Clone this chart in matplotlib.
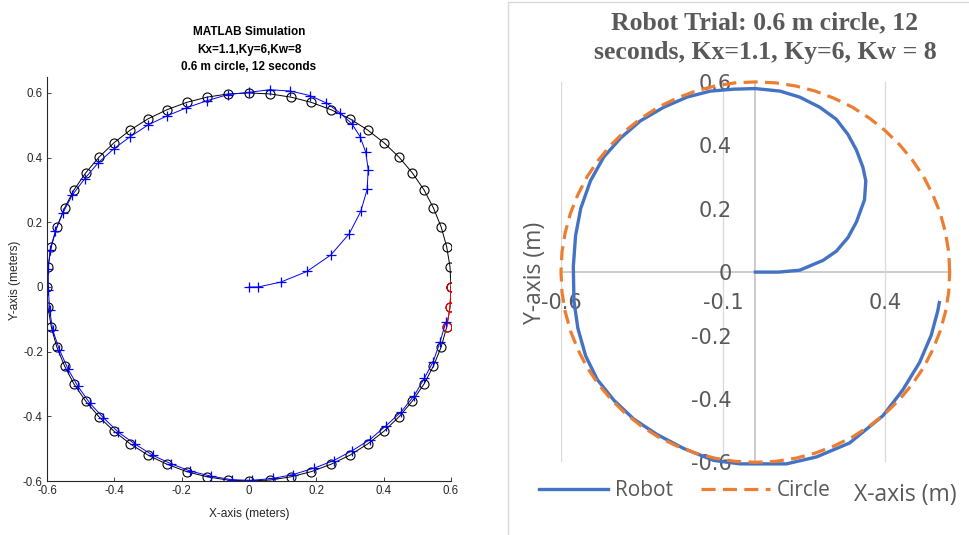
import matplotlib
matplotlib.use('Agg')
import matplotlib.pyplot as plt
from matplotlib.patches import Rectangle

plt.rcParams['axes.unicode_minus'] = False

# reference circle (0.6 m), one point every 0.2 s
ref_x = [0.600, 0.597, 0.587, 0.571, 0.548, 0.520, 0.485, 0.446, 0.401, 0.353,
         0.300, 0.244, 0.185, 0.125, 0.063, 0.000, -0.063, -0.125, -0.185, -0.244,
         -0.300, -0.353, -0.401, -0.446, -0.485, -0.520, -0.548, -0.571, -0.587, -0.597,
         -0.600, -0.597, -0.587, -0.571, -0.548, -0.520, -0.485, -0.446, -0.401, -0.353,
         -0.300, -0.244, -0.185, -0.125, -0.063, 0.000, 0.063, 0.125, 0.185, 0.244,
         0.300, 0.353, 0.401, 0.446, 0.485, 0.520, 0.548, 0.571, 0.587, 0.597, 0.600]
ref_y = [0.000, 0.063, 0.125, 0.185, 0.244, 0.300, 0.353, 0.401, 0.446, 0.485,
         0.520, 0.548, 0.571, 0.587, 0.597, 0.600, 0.597, 0.587, 0.571, 0.548,
         0.520, 0.485, 0.446, 0.401, 0.353, 0.300, 0.244, 0.185, 0.125, 0.063,
         0.000, -0.063, -0.125, -0.185, -0.244, -0.300, -0.353, -0.401, -0.446, -0.485,
         -0.520, -0.548, -0.571, -0.587, -0.597, -0.600, -0.597, -0.587, -0.571, -0.548,
         -0.520, -0.485, -0.446, -0.401, -0.353, -0.300, -0.244, -0.185, -0.125, -0.063, 0.000]
n_red = 3  # last reference points drawn in red

# MATLAB simulation of the robot path
sim_x = [0.0, 0.027, 0.094, 0.172, 0.243, 0.298, 0.332, 0.351, 0.354, 0.347,
         0.33, 0.306, 0.271, 0.23, 0.181, 0.123, 0.061, 0.0, -0.063, -0.125,
         -0.186, -0.244, -0.3, -0.354, -0.402, -0.448, -0.488, -0.525, -0.553, -0.575,
         -0.591, -0.596, -0.596, -0.592, -0.583, -0.563, -0.538, -0.509, -0.473, -0.433,
         -0.388, -0.34, -0.285, -0.231, -0.175, -0.114, -0.051, 0.008, 0.071, 0.131,
         0.194, 0.251, 0.307, 0.359, 0.406, 0.452, 0.49, 0.521, 0.547, 0.567, 0.585]
sim_y = [0.0, 0.0, 0.015, 0.048, 0.099, 0.165, 0.234, 0.302, 0.363, 0.416,
         0.465, 0.504, 0.538, 0.569, 0.592, 0.606, 0.61, 0.602, 0.595, 0.576,
         0.554, 0.529, 0.501, 0.464, 0.427, 0.384, 0.335, 0.284, 0.229, 0.173,
         0.115, 0.055, -0.008, -0.071, -0.134, -0.194, -0.253, -0.306, -0.359, -0.404,
         -0.449, -0.485, -0.521, -0.547, -0.569, -0.585, -0.596, -0.598, -0.592, -0.58,
         -0.56, -0.537, -0.506, -0.472, -0.43, -0.386, -0.337, -0.282, -0.231, -0.171, -0.108]

# robot trial path
trial_x = [0.0, 0.072, 0.137, 0.209, 0.25, 0.286, 0.312, 0.337, 0.341, 0.332,
           0.312, 0.286, 0.25, 0.199, 0.137, 0.076, 0.0, -0.068, -0.139, -0.211,
           -0.283, -0.355, -0.416, -0.468, -0.509, -0.539, -0.555, -0.562, -0.56, -0.548,
           -0.524, -0.488, -0.437, -0.375, -0.304, -0.222, -0.129, -0.047, 0.096, 0.189,
           0.291, 0.394, 0.455, 0.507, 0.543, 0.563, 0.568]
trial_y = [0.0, 0.0, 0.006, 0.037, 0.066, 0.109, 0.158, 0.228, 0.288, 0.331,
           0.385, 0.434, 0.482, 0.52, 0.552, 0.571, 0.579, 0.577, 0.571, 0.552,
           0.52, 0.477, 0.423, 0.363, 0.288, 0.201, 0.115, 0.017, -0.091, -0.177,
           -0.264, -0.339, -0.404, -0.464, -0.512, -0.556, -0.594, -0.605, -0.605, -0.583,
           -0.539, -0.453, -0.372, -0.285, -0.199, -0.123, -0.096]

left_ticks = [-0.6, -0.4, -0.2, 0, 0.2, 0.4, 0.6]
left_ticklabels = ['-0.6', '-0.4', '-0.2', '0', '0.2', '0.4', '0.6']
right_xticks = [-0.6, -0.1, 0.4]
right_xticklabels = ['-0.6', '-0.1', '0.4']
right_yticks = [-0.6, -0.4, -0.2, 0, 0.2, 0.4, 0.6]
right_yticklabels = ['-0.6', '-0.4', '-0.2', '0', '0.2', '0.4', '0.6']

fig = plt.figure(figsize=(9.69, 5.35), dpi=100)

# ---- left: MATLAB simulation ----
mfont = 'Liberation Sans'
ax1 = fig.add_axes([47 / 969, 1 - 481 / 535, 404 / 969, (481 - 76.8) / 535])
ax1.plot(ref_x, ref_y, 'k-', lw=0.7, marker='o', ms=6.5, mfc='none', mew=0.8)
ax1.plot(ref_x[-n_red:], ref_y[-n_red:], 'r-', lw=0.7, marker='o', ms=6.5, mfc='none', mew=0.8)
ax1.plot(sim_x, sim_y, 'b-', lw=0.7, marker='+', ms=7, mew=0.9)
ax1.set_xlim(-0.6, 0.6)
ax1.set_ylim(-0.6, 0.65)
ax1.set_xticks(left_ticks)
ax1.set_xticklabels(left_ticklabels, fontfamily=mfont)
ax1.set_yticks(left_ticks)
ax1.set_yticklabels(left_ticklabels, fontfamily=mfont)
ax1.spines['top'].set_visible(False)
ax1.spines['right'].set_visible(False)
for s in ('left', 'bottom'):
    ax1.spines[s].set_color('#262626')
    ax1.spines[s].set_linewidth(0.8)
ax1.tick_params(direction='in', length=3, width=0.6, labelsize=8.3,
                colors='#262626', pad=3)

fig.text(249 / 969, 1 - 31.7 / 535, 'MATLAB Simulation', ha='center', va='center',
         fontsize=8.5, fontweight='bold', fontfamily=mfont)
fig.text(249 / 969, 1 - 49.5 / 535, 'Kx=1.1,Ky=6,Kw=8', ha='center', va='center',
         fontsize=8.5, fontweight='bold', fontfamily=mfont)
fig.text(249 / 969, 1 - 67.2 / 535, '0.6 m circle, 12 seconds', ha='center', va='center',
         fontsize=8.5, fontweight='bold', fontfamily=mfont)
fig.text(249 / 969, 1 - 513.5 / 535, 'X-axis (meters)', ha='center', va='center',
         fontsize=8.6, color='#262626', fontfamily=mfont)
fig.text(15 / 969, 1 - 280 / 535, 'Y-axis (meters)', ha='center', va='center',
         rotation=90, fontsize=8.6, color='#262626', fontfamily=mfont)

# ---- right: Excel chart of the robot trial ----
efont = 'Open Sans'
gray = '#595959'
fig.add_artist(Rectangle((508 / 969, -0.01), 0.6, 1.01 - 2 / 535,
                         transform=fig.transFigure, fill=False,
                         edgecolor='#d9d9d9', lw=1))

ax2 = fig.add_axes([561 / 969, 1 - 462.3 / 535, (949.7 - 561) / 969, (462.3 - 81.9) / 535])
ax2.plot(trial_x, trial_y, color='#4472C4', lw=2.4, label='Robot', clip_on=False)
ax2.plot(ref_x, ref_y, color='#ED7D31', lw=2.3, ls=(0, (4.4, 2.3)), label='Circle', clip_on=False)
ax2.set_xlim(-0.6, 0.6)
ax2.set_ylim(-0.6, 0.6)
ax2.set_xticks(right_xticks)
ax2.set_xticklabels(right_xticklabels, fontfamily=efont)
ax2.set_yticks(right_yticks)
ax2.set_yticklabels(right_yticklabels, fontfamily=efont)
ax2.spines['left'].set_position('zero')
ax2.spines['bottom'].set_position('zero')
ax2.spines['top'].set_visible(False)
ax2.spines['right'].set_visible(False)
for s in ('left', 'bottom'):
    ax2.spines[s].set_color('#bfbfbf')
    ax2.spines[s].set_linewidth(1.1)
    ax2.spines[s].set_zorder(0.5)
ax2.grid(axis='x', color='#d9d9d9', lw=0.9, zorder=0)
ax2.set_axisbelow(True)
ax2.tick_params(length=0, labelsize=15, colors=gray)
ax2.tick_params(axis='y', pad=17)
ax2.tick_params(axis='x', pad=15)

fig.text(765 / 969, 1 - 23.2 / 535, 'Robot Trial: 0.6 m circle, 12', ha='center', va='center',
         fontsize=18.5, fontweight='bold', color=gray, fontfamily='Liberation Serif')
fig.text(765 / 969, 1 - 52.9 / 535, 'seconds, Kx=1.1, Ky=6, Kw = 8', ha='center', va='center',
         fontsize=18.5, fontweight='bold', color=gray, fontfamily='Liberation Serif')
fig.text(905 / 969, 1 - 495 / 535, 'X-axis (m)', ha='center', va='center',
         fontsize=16.5, color=gray, fontfamily=efont)
fig.text(535 / 969, 1 - 273 / 535, 'Y-axis (m)', ha='center', va='center', rotation=90,
         fontsize=16.5, color=gray, fontfamily=efont)

ax2.legend(loc='center left', bbox_to_anchor=(539 / 969, 1 - 491 / 535),
           bbox_transform=fig.transFigure, ncol=2, frameon=False,
           prop={'family': efont, 'size': 15}, labelcolor=gray,
           handlelength=3.3, handletextpad=0.34, columnspacing=1.35,
           borderpad=0, borderaxespad=0)

fig.savefig('out.png', dpi=100)
